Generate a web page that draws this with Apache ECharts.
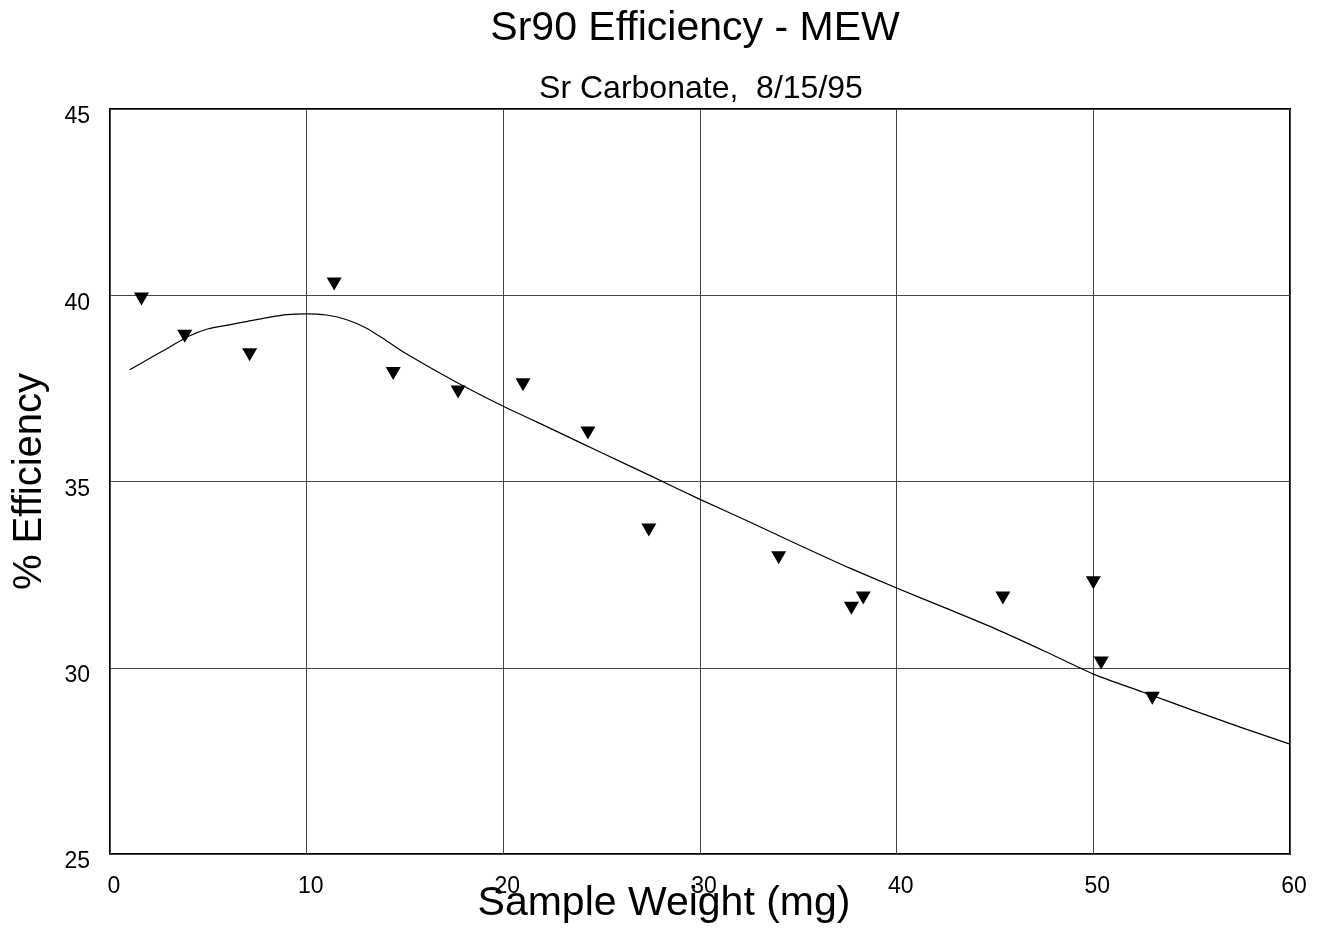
<!DOCTYPE html>
<html>
<head>
<meta charset="utf-8">
<script src="https://cdn.jsdelivr.net/npm/echarts@6/dist/echarts.min.js"></script>
<style>html,body{margin:0;padding:0;background:#fff}#c{width:1321px;height:933px}</style>
</head>
<body>
<div id="c"></div>
<script>
// measured points: sample weight (mg) and % efficiency
const sampleWeight = [1.6, 3.8, 7.1, 11.4, 14.4, 17.7, 21.0, 24.3, 27.4, 34.0, 37.7, 38.3, 45.4, 50.0, 50.4, 53.0];
const efficiency   = [39.9, 38.9, 38.4, 40.3, 37.9, 37.4, 37.6, 36.3, 33.7, 32.95, 31.6, 31.87, 31.87, 32.28, 30.13, 29.18];

// fitted curve
const fitX = [1, 2, 3, 4, 5, 6, 7, 8, 9, 10, 11, 12, 13, 14, 15, 17.5, 20, 22.5, 25, 27.5, 30, 32.5, 35, 37.5, 40, 42.5, 45, 47.5, 50, 52.5, 55, 57.5, 60];
const fitY = [38.0, 38.3, 38.6, 38.9, 39.1, 39.2, 39.3, 39.4, 39.48, 39.5, 39.47, 39.35, 39.13, 38.8, 38.45, 37.7, 37.02, 36.4, 35.77, 35.15, 34.52, 33.92, 33.3, 32.7, 32.14, 31.6, 31.05, 30.45, 29.83, 29.35, 28.87, 28.4, 27.95];

const xTicks = [0, 10, 20, 30, 40, 50, 60];
const yTicks = [25, 30, 35, 40, 45];

const chart = echarts.init(document.getElementById('c'));
const font = '"Liberation Sans", Arial, sans-serif';
chart.setOption({
  animation: false,
  backgroundColor: '#fff',
  title: [
    { text: 'Sr90 Efficiency - MEW', left: 690, textAlign: 'center', top: 3, textStyle: { fontFamily: font, fontSize: 41, fontWeight: 'normal', color: '#000' } },
    { text: 'Sr Carbonate,  8/15/95', left: 696, textAlign: 'center', top: 68, textStyle: { fontFamily: font, fontSize: 32, fontWeight: 'normal', color: '#000' } }
  ],
  grid: { left: 110, top: 109, right: 31, bottom: 79, show: true, borderColor: '#000', borderWidth: 2, backgroundColor: 'transparent', outerBoundsMode: 'none', containLabel: false },
  xAxis: {
    type: 'value', min: xTicks[0], max: xTicks[xTicks.length - 1], interval: 10,
    name: 'Sample Weight (mg)', nameLocation: 'middle', nameGap: 29, nameMoveOverlap: false,
    nameTextStyle: { fontFamily: font, fontSize: 41, color: '#000', padding: [0, 72, 0, 0] },
    axisLine: { show: false }, axisTick: { show: false },
    axisLabel: { fontFamily: font, fontSize: 23, color: '#000', margin: 21, padding: [0, 0, 0, 8] },
    splitLine: { show: true, lineStyle: { color: '#444', width: 1 } }
  },
  yAxis: {
    type: 'value', min: yTicks[0], max: yTicks[yTicks.length - 1], interval: 5,
    name: '% Efficiency', nameLocation: 'middle', nameGap: 60, nameMoveOverlap: false,
    nameTextStyle: { fontFamily: font, fontSize: 40, color: '#000' },
    axisLine: { show: false }, axisTick: { show: false },
    axisLabel: { fontFamily: font, fontSize: 23, color: '#000', margin: 20, verticalAlign: 'top', lineHeight: 16 },
    splitLine: { show: true, lineStyle: { color: '#444', width: 1 } }
  },
  series: [
    {
      type: 'line', data: fitX.map((x, i) => [x, fitY[i]]),
      showSymbol: false, symbol: 'none', smooth: 0.2,
      lineStyle: { color: '#000', width: 1.2 }, z: 2
    },
    {
      type: 'scatter', data: sampleWeight.map((x, i) => [x, efficiency[i]]),
      symbol: 'triangle', symbolRotate: 180, symbolSize: [15, 13],
      itemStyle: { color: '#000', opacity: 1 }, z: 3
    }
  ]
});
</script>
</body>
</html>
